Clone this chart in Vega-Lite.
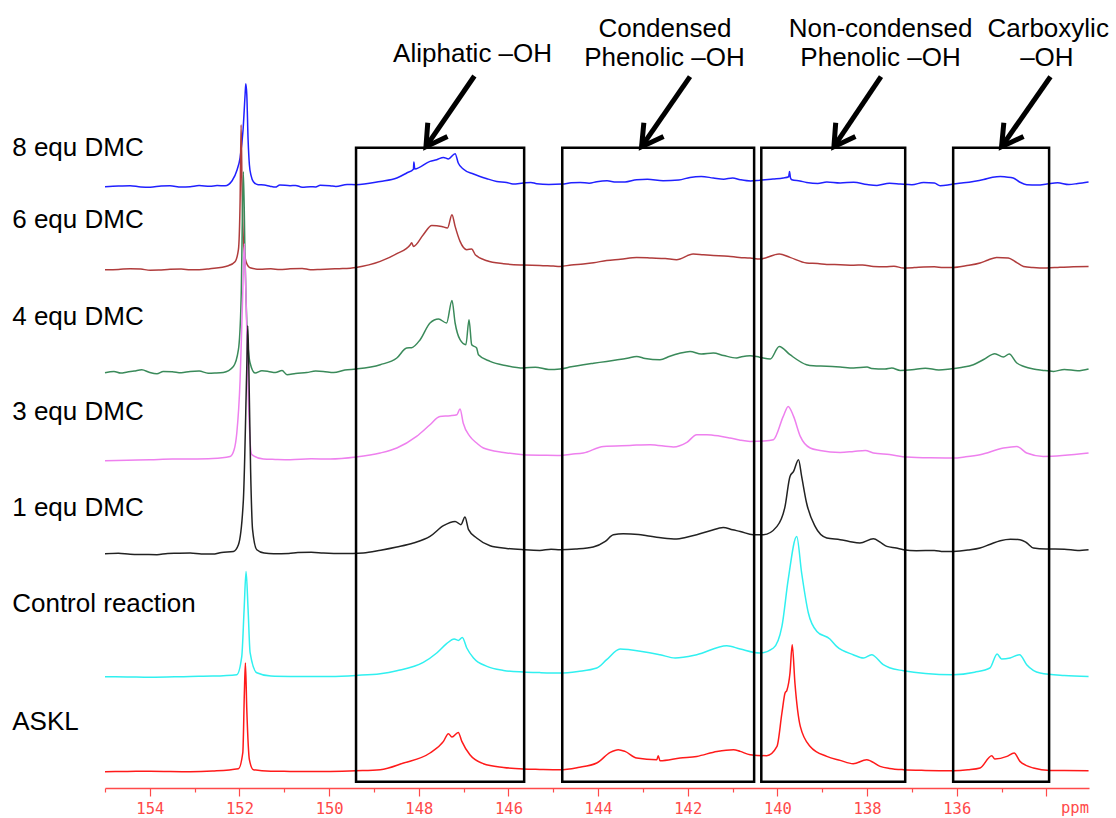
{
  "$schema": "https://vega.github.io/schema/vega-lite/v6.json",
  "width": 984,
  "height": 788,
  "autosize": {"type": "none"},
  "padding": {"left": 105, "top": 0, "right": 27, "bottom": 30},
  "background": "white",
  "config": {"view": {"stroke": null}, "font": "Liberation Sans"},
  "datasets": {
    "spectra": [
      {"s":"8 equ DMC","p":155.0,"v":601.3},{"s":"8 equ DMC","p":154.7,"v":602.0},{"s":"8 equ DMC","p":154.44,"v":602.3},{"s":"8 equ DMC","p":154.2,"v":601.0},{"s":"8 equ DMC","p":153.99,"v":600.8},{"s":"8 equ DMC","p":153.75,"v":602.0},{"s":"8 equ DMC","p":153.55,"v":602.3},{"s":"8 equ DMC","p":153.3,"v":600.9},{"s":"8 equ DMC","p":153.10,"v":601.3},{"s":"8 equ DMC","p":152.9,"v":602.4},{"s":"8 equ DMC","p":152.66,"v":601.8},{"s":"8 equ DMC","p":152.5,"v":602.4},{"s":"8 equ DMC","p":152.32,"v":602.3},{"s":"8 equ DMC","p":152.165,"v":607.3},{"s":"8 equ DMC","p":152.053,"v":618.3},{"s":"8 equ DMC","p":151.986,"v":630.3},{"s":"8 equ DMC","p":151.92,"v":658.3},{"s":"8 equ DMC","p":151.875,"v":693.3},{"s":"8 equ DMC","p":151.859,"v":704.3},{"s":"8 equ DMC","p":151.837,"v":693.3},{"s":"8 equ DMC","p":151.808,"v":648.3},{"s":"8 equ DMC","p":151.779,"v":623.3},{"s":"8 equ DMC","p":151.741,"v":612.3},{"s":"8 equ DMC","p":151.69,"v":606.3},{"s":"8 equ DMC","p":151.585,"v":603.3},{"s":"8 equ DMC","p":151.45,"v":603.0},{"s":"8 equ DMC","p":151.32,"v":601.8},{"s":"8 equ DMC","p":151.2,"v":600.9},{"s":"8 equ DMC","p":151.1,"v":603.0},{"s":"8 equ DMC","p":150.87,"v":602.3},{"s":"8 equ DMC","p":150.75,"v":602.6},{"s":"8 equ DMC","p":150.6,"v":600.8},{"s":"8 equ DMC","p":150.42,"v":601.3},{"s":"8 equ DMC","p":150.3,"v":601.0},{"s":"8 equ DMC","p":150.2,"v":602.8},{"s":"8 equ DMC","p":149.98,"v":602.3},{"s":"8 equ DMC","p":149.85,"v":601.5},{"s":"8 equ DMC","p":149.6,"v":603.5},{"s":"8 equ DMC","p":149.40,"v":603.3},{"s":"8 equ DMC","p":148.86,"v":606.6},{"s":"8 equ DMC","p":148.49,"v":610},{"s":"8 equ DMC","p":148.27,"v":615},{"s":"8 equ DMC","p":148.12,"v":618.8},{"s":"8 equ DMC","p":148.11,"v":626},{"s":"8 equ DMC","p":148.09,"v":619},{"s":"8 equ DMC","p":147.75,"v":626.6},{"s":"8 equ DMC","p":147.60,"v":628.3},{"s":"8 equ DMC","p":147.45,"v":630.6},{"s":"8 equ DMC","p":147.34,"v":629},{"s":"8 equ DMC","p":147.19,"v":634.3},{"s":"8 equ DMC","p":147.12,"v":625},{"s":"8 equ DMC","p":147.01,"v":619},{"s":"8 equ DMC","p":146.78,"v":614},{"s":"8 equ DMC","p":146.48,"v":609.3},{"s":"8 equ DMC","p":146.26,"v":606.6},{"s":"8 equ DMC","p":146.04,"v":605.6},{"s":"8 equ DMC","p":145.9,"v":604.0},{"s":"8 equ DMC","p":145.67,"v":605},{"s":"8 equ DMC","p":145.5,"v":605.6},{"s":"8 equ DMC","p":145.37,"v":604.3},{"s":"8 equ DMC","p":145.1,"v":603.6},{"s":"8 equ DMC","p":144.80,"v":604},{"s":"8 equ DMC","p":144.6,"v":605.2},{"s":"8 equ DMC","p":144.4,"v":605.5},{"s":"8 equ DMC","p":144.2,"v":604.8},{"s":"8 equ DMC","p":144.03,"v":606.3},{"s":"8 equ DMC","p":143.8,"v":607.2},{"s":"8 equ DMC","p":143.6,"v":606.0},{"s":"8 equ DMC","p":143.4,"v":606.0},{"s":"8 equ DMC","p":143.14,"v":608.3},{"s":"8 equ DMC","p":142.9,"v":608.8},{"s":"8 equ DMC","p":142.55,"v":607.3},{"s":"8 equ DMC","p":142.2,"v":608.0},{"s":"8 equ DMC","p":141.95,"v":610.6},{"s":"8 equ DMC","p":141.7,"v":611.5},{"s":"8 equ DMC","p":141.43,"v":610},{"s":"8 equ DMC","p":141.2,"v":608.8},{"s":"8 equ DMC","p":141.0,"v":610.0},{"s":"8 equ DMC","p":140.83,"v":608.3},{"s":"8 equ DMC","p":140.6,"v":607.0},{"s":"8 equ DMC","p":140.39,"v":607.8},{"s":"8 equ DMC","p":140.1,"v":609.0},{"s":"8 equ DMC","p":139.87,"v":610},{"s":"8 equ DMC","p":139.75,"v":611.3},{"s":"8 equ DMC","p":139.73,"v":616.6},{"s":"8 equ DMC","p":139.71,"v":610.3},{"s":"8 equ DMC","p":139.68,"v":608.3},{"s":"8 equ DMC","p":139.5,"v":607.0},{"s":"8 equ DMC","p":139.35,"v":605.6},{"s":"8 equ DMC","p":139.1,"v":604.5},{"s":"8 equ DMC","p":138.9,"v":606.0},{"s":"8 equ DMC","p":138.60,"v":605},{"s":"8 equ DMC","p":138.3,"v":605.8},{"s":"8 equ DMC","p":138.0,"v":603.5},{"s":"8 equ DMC","p":137.78,"v":602.6},{"s":"8 equ DMC","p":137.5,"v":604.8},{"s":"8 equ DMC","p":137.26,"v":604},{"s":"8 equ DMC","p":137.0,"v":603.2},{"s":"8 equ DMC","p":136.74,"v":605.6},{"s":"8 equ DMC","p":136.5,"v":605.0},{"s":"8 equ DMC","p":136.37,"v":602.3},{"s":"8 equ DMC","p":136.2,"v":603.0},{"s":"8 equ DMC","p":136.08,"v":604},{"s":"8 equ DMC","p":135.85,"v":605.2},{"s":"8 equ DMC","p":135.63,"v":606.6},{"s":"8 equ DMC","p":135.4,"v":608.5},{"s":"8 equ DMC","p":135.2,"v":610.8},{"s":"8 equ DMC","p":135.03,"v":611.6},{"s":"8 equ DMC","p":134.9,"v":611.0},{"s":"8 equ DMC","p":134.74,"v":610},{"s":"8 equ DMC","p":134.6,"v":606.0},{"s":"8 equ DMC","p":134.44,"v":603.3},{"s":"8 equ DMC","p":134.2,"v":603.0},{"s":"8 equ DMC","p":133.99,"v":604},{"s":"8 equ DMC","p":133.75,"v":605.2},{"s":"8 equ DMC","p":133.5,"v":603.5},{"s":"8 equ DMC","p":133.3,"v":604.5},{"s":"8 equ DMC","p":133.06,"v":606},

      {"s":"6 equ DMC","p":155.0,"v":518.3},{"s":"6 equ DMC","p":154.7,"v":518.6},{"s":"6 equ DMC","p":154.44,"v":519.3},{"s":"6 equ DMC","p":154.2,"v":518.9},{"s":"6 equ DMC","p":153.99,"v":517.8},{"s":"6 equ DMC","p":153.8,"v":517.9},{"s":"6 equ DMC","p":153.55,"v":518.8},{"s":"6 equ DMC","p":153.3,"v":518.9},{"s":"6 equ DMC","p":153.10,"v":518.3},{"s":"6 equ DMC","p":152.9,"v":518.2},{"s":"6 equ DMC","p":152.66,"v":519.3},{"s":"6 equ DMC","p":152.25,"v":522.3},{"s":"6 equ DMC","p":152.10,"v":526.3},{"s":"6 equ DMC","p":152.024,"v":538.3},{"s":"6 equ DMC","p":151.986,"v":588.3},{"s":"6 equ DMC","p":151.964,"v":663.3},{"s":"6 equ DMC","p":151.942,"v":598.3},{"s":"6 equ DMC","p":151.908,"v":543.3},{"s":"6 equ DMC","p":151.853,"v":526.3},{"s":"6 equ DMC","p":151.763,"v":520.3},{"s":"6 equ DMC","p":151.54,"v":518.8},{"s":"6 equ DMC","p":151.3,"v":519.2},{"s":"6 equ DMC","p":151.1,"v":518.4},{"s":"6 equ DMC","p":150.87,"v":519.3},{"s":"6 equ DMC","p":150.6,"v":519.6},{"s":"6 equ DMC","p":150.42,"v":518.3},{"s":"6 equ DMC","p":150.2,"v":518.6},{"s":"6 equ DMC","p":149.98,"v":519},{"s":"6 equ DMC","p":149.7,"v":519.4},{"s":"6 equ DMC","p":149.40,"v":520.6},{"s":"6 equ DMC","p":148.86,"v":526.6},{"s":"6 equ DMC","p":148.49,"v":534.3},{"s":"6 equ DMC","p":148.19,"v":543.3},{"s":"6 equ DMC","p":148.16,"v":545.3},{"s":"6 equ DMC","p":148.12,"v":541.6},{"s":"6 equ DMC","p":147.90,"v":553.3},{"s":"6 equ DMC","p":147.71,"v":562.6},{"s":"6 equ DMC","p":147.49,"v":561.6},{"s":"6 equ DMC","p":147.36,"v":560},{"s":"6 equ DMC","p":147.26,"v":573.3},{"s":"6 equ DMC","p":147.19,"v":561.6},{"s":"6 equ DMC","p":147.08,"v":546.6},{"s":"6 equ DMC","p":146.93,"v":538.3},{"s":"6 equ DMC","p":146.82,"v":539},{"s":"6 equ DMC","p":146.74,"v":533.3},{"s":"6 equ DMC","p":146.48,"v":527.3},{"s":"6 equ DMC","p":146.11,"v":524.3},{"s":"6 equ DMC","p":145.67,"v":523},{"s":"6 equ DMC","p":145.3,"v":522.6},{"s":"6 equ DMC","p":145.0,"v":521.9},{"s":"6 equ DMC","p":144.85,"v":521.6},{"s":"6 equ DMC","p":144.6,"v":523.0},{"s":"6 equ DMC","p":144.33,"v":524},{"s":"6 equ DMC","p":144.1,"v":525.2},{"s":"6 equ DMC","p":143.81,"v":527.6},{"s":"6 equ DMC","p":143.5,"v":528.8},{"s":"6 equ DMC","p":143.14,"v":530.6},{"s":"6 equ DMC","p":142.8,"v":530.0},{"s":"6 equ DMC","p":142.5,"v":529.4},{"s":"6 equ DMC","p":142.25,"v":528.3},{"s":"6 equ DMC","p":141.88,"v":534},{"s":"6 equ DMC","p":141.65,"v":533.2},{"s":"6 equ DMC","p":141.43,"v":532.6},{"s":"6 equ DMC","p":141.1,"v":531.8},{"s":"6 equ DMC","p":140.85,"v":530.6},{"s":"6 equ DMC","p":140.61,"v":530},{"s":"6 equ DMC","p":140.39,"v":529},{"s":"6 equ DMC","p":139.96,"v":534},{"s":"6 equ DMC","p":139.72,"v":530.6},{"s":"6 equ DMC","p":139.35,"v":525},{"s":"6 equ DMC","p":139.1,"v":524.5},{"s":"6 equ DMC","p":138.9,"v":523.6},{"s":"6 equ DMC","p":138.60,"v":523.3},{"s":"6 equ DMC","p":138.3,"v":522.8},{"s":"6 equ DMC","p":138.1,"v":523.0},{"s":"6 equ DMC","p":137.86,"v":521.6},{"s":"6 equ DMC","p":137.6,"v":521.2},{"s":"6 equ DMC","p":137.4,"v":521.8},{"s":"6 equ DMC","p":137.19,"v":520},{"s":"6 equ DMC","p":136.95,"v":520.4},{"s":"6 equ DMC","p":136.74,"v":521},{"s":"6 equ DMC","p":136.5,"v":521.3},{"s":"6 equ DMC","p":136.3,"v":520.4},{"s":"6 equ DMC","p":136.08,"v":520.6},{"s":"6 equ DMC","p":135.8,"v":522.3},{"s":"6 equ DMC","p":135.48,"v":525},{"s":"6 equ DMC","p":135.3,"v":528.0},{"s":"6 equ DMC","p":135.11,"v":530.6},{"s":"6 equ DMC","p":134.85,"v":530},{"s":"6 equ DMC","p":134.7,"v":526.5},{"s":"6 equ DMC","p":134.51,"v":521.6},{"s":"6 equ DMC","p":134.3,"v":520.5},{"s":"6 equ DMC","p":133.99,"v":520},{"s":"6 equ DMC","p":133.7,"v":520.8},{"s":"6 equ DMC","p":133.4,"v":521.2},{"s":"6 equ DMC","p":133.06,"v":521.6},

      {"s":"4 equ DMC","p":155.0,"v":415.3},{"s":"4 equ DMC","p":154.8,"v":416.6},{"s":"4 equ DMC","p":154.65,"v":414.9},{"s":"4 equ DMC","p":154.5,"v":416.0},{"s":"4 equ DMC","p":154.35,"v":416.9},{"s":"4 equ DMC","p":154.18,"v":418.3},{"s":"4 equ DMC","p":154.0,"v":415.5},{"s":"4 equ DMC","p":153.84,"v":414.3},{"s":"4 equ DMC","p":153.7,"v":416.5},{"s":"4 equ DMC","p":153.5,"v":416.2},{"s":"4 equ DMC","p":153.3,"v":415.2},{"s":"4 equ DMC","p":153.10,"v":416.6},{"s":"4 equ DMC","p":152.9,"v":417.0},{"s":"4 equ DMC","p":152.7,"v":414.8},{"s":"4 equ DMC","p":152.55,"v":415.0},{"s":"4 equ DMC","p":152.36,"v":415.6},{"s":"4 equ DMC","p":152.136,"v":421.6},{"s":"4 equ DMC","p":152.024,"v":438.3},{"s":"4 equ DMC","p":151.964,"v":488.3},{"s":"4 equ DMC","p":151.913,"v":616.3},{"s":"4 equ DMC","p":151.875,"v":528.3},{"s":"4 equ DMC","p":151.83,"v":458.3},{"s":"4 equ DMC","p":151.763,"v":425},{"s":"4 equ DMC","p":151.652,"v":415},{"s":"4 equ DMC","p":151.5,"v":417.2},{"s":"4 equ DMC","p":151.355,"v":416.6},{"s":"4 equ DMC","p":151.2,"v":415.5},{"s":"4 equ DMC","p":151.05,"v":417.5},{"s":"4 equ DMC","p":150.94,"v":413.3},{"s":"4 equ DMC","p":150.75,"v":414.6},{"s":"4 equ DMC","p":150.5,"v":415.5},{"s":"4 equ DMC","p":150.3,"v":416.9},{"s":"4 equ DMC","p":150.13,"v":416.6},{"s":"4 equ DMC","p":149.9,"v":415.4},{"s":"4 equ DMC","p":149.65,"v":418.0},{"s":"4 equ DMC","p":149.40,"v":419},{"s":"4 equ DMC","p":148.86,"v":423.3},{"s":"4 equ DMC","p":148.49,"v":430},{"s":"4 equ DMC","p":148.27,"v":440},{"s":"4 equ DMC","p":148.16,"v":440.3},{"s":"4 equ DMC","p":147.97,"v":448.3},{"s":"4 equ DMC","p":147.75,"v":465},{"s":"4 equ DMC","p":147.56,"v":469},{"s":"4 equ DMC","p":147.38,"v":465},{"s":"4 equ DMC","p":147.26,"v":487.6},{"s":"4 equ DMC","p":147.19,"v":465},{"s":"4 equ DMC","p":147.08,"v":448.3},{"s":"4 equ DMC","p":146.95,"v":443.3},{"s":"4 equ DMC","p":146.88,"v":468.3},{"s":"4 equ DMC","p":146.82,"v":443.3},{"s":"4 equ DMC","p":146.71,"v":440},{"s":"4 equ DMC","p":146.67,"v":433.3},{"s":"4 equ DMC","p":146.41,"v":426.6},{"s":"4 equ DMC","p":146.04,"v":422.3},{"s":"4 equ DMC","p":145.67,"v":420},{"s":"4 equ DMC","p":145.4,"v":420.8},{"s":"4 equ DMC","p":145.1,"v":418.5},{"s":"4 equ DMC","p":144.85,"v":419},{"s":"4 equ DMC","p":144.6,"v":421.2},{"s":"4 equ DMC","p":144.33,"v":423.3},{"s":"4 equ DMC","p":144.1,"v":424.8},{"s":"4 equ DMC","p":143.81,"v":426.6},{"s":"4 equ DMC","p":143.6,"v":428.0},{"s":"4 equ DMC","p":143.35,"v":429.8},{"s":"4 equ DMC","p":143.14,"v":431.6},{"s":"4 equ DMC","p":142.95,"v":429.5},{"s":"4 equ DMC","p":142.62,"v":428.3},{"s":"4 equ DMC","p":142.4,"v":431.8},{"s":"4 equ DMC","p":142.2,"v":434.5},{"s":"4 equ DMC","p":141.95,"v":436.6},{"s":"4 equ DMC","p":141.7,"v":434.0},{"s":"4 equ DMC","p":141.43,"v":435},{"s":"4 equ DMC","p":141.2,"v":432.5},{"s":"4 equ DMC","p":140.91,"v":430},{"s":"4 equ DMC","p":140.8,"v":431.2},{"s":"4 equ DMC","p":140.61,"v":432.3},{"s":"4 equ DMC","p":140.4,"v":430.8},{"s":"4 equ DMC","p":140.16,"v":429},{"s":"4 equ DMC","p":139.96,"v":441.6},{"s":"4 equ DMC","p":139.72,"v":433.3},{"s":"4 equ DMC","p":139.35,"v":423.3},{"s":"4 equ DMC","p":139.2,"v":422.2},{"s":"4 equ DMC","p":138.9,"v":421.8},{"s":"4 equ DMC","p":138.60,"v":421},{"s":"4 equ DMC","p":138.3,"v":420.0},{"s":"4 equ DMC","p":138.0,"v":420.9},{"s":"4 equ DMC","p":137.9,"v":419.5},{"s":"4 equ DMC","p":137.6,"v":419.0},{"s":"4 equ DMC","p":137.45,"v":420.0},{"s":"4 equ DMC","p":137.26,"v":417.6},{"s":"4 equ DMC","p":137.0,"v":418.2},{"s":"4 equ DMC","p":136.7,"v":419.8},{"s":"4 equ DMC","p":136.4,"v":418.0},{"s":"4 equ DMC","p":136.15,"v":419},{"s":"4 equ DMC","p":135.9,"v":420.6},{"s":"4 equ DMC","p":135.63,"v":423.3},{"s":"4 equ DMC","p":135.4,"v":428.5},{"s":"4 equ DMC","p":135.15,"v":434.3},{"s":"4 equ DMC","p":134.96,"v":431},{"s":"4 equ DMC","p":134.83,"v":434},{"s":"4 equ DMC","p":134.66,"v":425},{"s":"4 equ DMC","p":134.5,"v":421.5},{"s":"4 equ DMC","p":134.29,"v":419},{"s":"4 equ DMC","p":134.1,"v":417.8},{"s":"4 equ DMC","p":133.84,"v":416.6},{"s":"4 equ DMC","p":133.6,"v":418.6},{"s":"4 equ DMC","p":133.3,"v":417.2},{"s":"4 equ DMC","p":133.06,"v":419},

      {"s":"3 equ DMC","p":155.0,"v":327.3},{"s":"3 equ DMC","p":154.5,"v":327.8},{"s":"3 equ DMC","p":153.99,"v":328.3},{"s":"3 equ DMC","p":153.5,"v":328.9},{"s":"3 equ DMC","p":153.10,"v":329},{"s":"3 equ DMC","p":152.6,"v":329.5},{"s":"3 equ DMC","p":152.21,"v":331.6},{"s":"3 equ DMC","p":152.12,"v":338.3},{"s":"3 equ DMC","p":152.06,"v":355},{"s":"3 equ DMC","p":151.986,"v":408.3},{"s":"3 equ DMC","p":151.931,"v":488.3},{"s":"3 equ DMC","p":151.891,"v":544.3},{"s":"3 equ DMC","p":151.853,"v":488.3},{"s":"3 equ DMC","p":151.801,"v":388.3},{"s":"3 equ DMC","p":151.725,"v":333.3},{"s":"3 equ DMC","p":151.467,"v":329},{"s":"3 equ DMC","p":151.2,"v":328.6},{"s":"3 equ DMC","p":150.87,"v":328.3},{"s":"3 equ DMC","p":150.4,"v":329.2},{"s":"3 equ DMC","p":149.98,"v":329},{"s":"3 equ DMC","p":149.40,"v":331},{"s":"3 equ DMC","p":148.86,"v":335},{"s":"3 equ DMC","p":148.49,"v":340},{"s":"3 equ DMC","p":148.05,"v":351.6},{"s":"3 equ DMC","p":147.75,"v":363.3},{"s":"3 equ DMC","p":147.53,"v":371.6},{"s":"3 equ DMC","p":147.30,"v":372.3},{"s":"3 equ DMC","p":147.15,"v":373.3},{"s":"3 equ DMC","p":147.08,"v":379},{"s":"3 equ DMC","p":147.01,"v":365},{"s":"3 equ DMC","p":146.86,"v":351.6},{"s":"3 equ DMC","p":146.71,"v":345},{"s":"3 equ DMC","p":146.56,"v":340},{"s":"3 equ DMC","p":146.11,"v":335.6},{"s":"3 equ DMC","p":145.67,"v":333.3},{"s":"3 equ DMC","p":145.2,"v":332.8},{"s":"3 equ DMC","p":144.85,"v":332.6},{"s":"3 equ DMC","p":144.6,"v":333.8},{"s":"3 equ DMC","p":144.33,"v":335},{"s":"3 equ DMC","p":143.88,"v":341.6},{"s":"3 equ DMC","p":143.29,"v":342.6},{"s":"3 equ DMC","p":142.84,"v":343.3},{"s":"3 equ DMC","p":142.32,"v":341},{"s":"3 equ DMC","p":142.02,"v":345.6},{"s":"3 equ DMC","p":141.80,"v":353.3},{"s":"3 equ DMC","p":141.58,"v":353.3},{"s":"3 equ DMC","p":141.3,"v":352.0},{"s":"3 equ DMC","p":141.06,"v":350},{"s":"3 equ DMC","p":140.85,"v":348.0},{"s":"3 equ DMC","p":140.61,"v":346.6},{"s":"3 equ DMC","p":140.3,"v":347.0},{"s":"3 equ DMC","p":140.09,"v":348.3},{"s":"3 equ DMC","p":139.87,"v":371.6},{"s":"3 equ DMC","p":139.76,"v":381.6},{"s":"3 equ DMC","p":139.64,"v":371.6},{"s":"3 equ DMC","p":139.49,"v":351.6},{"s":"3 equ DMC","p":139.27,"v":340},{"s":"3 equ DMC","p":139.05,"v":337.6},{"s":"3 equ DMC","p":138.60,"v":335.6},{"s":"3 equ DMC","p":138.3,"v":336.6},{"s":"3 equ DMC","p":138.04,"v":337.6},{"s":"3 equ DMC","p":137.86,"v":335},{"s":"3 equ DMC","p":137.5,"v":333.4},{"s":"3 equ DMC","p":137.11,"v":331},{"s":"3 equ DMC","p":136.6,"v":330.2},{"s":"3 equ DMC","p":136.08,"v":330},{"s":"3 equ DMC","p":135.8,"v":331.2},{"s":"3 equ DMC","p":135.48,"v":333.3},{"s":"3 equ DMC","p":134.96,"v":340},{"s":"3 equ DMC","p":134.66,"v":341.6},{"s":"3 equ DMC","p":134.44,"v":335},{"s":"3 equ DMC","p":134.07,"v":331.6},{"s":"3 equ DMC","p":133.06,"v":335},

      {"s":"1 equ DMC","p":155.0,"v":234.3},{"s":"1 equ DMC","p":154.7,"v":234.8},{"s":"1 equ DMC","p":154.44,"v":233.8},{"s":"1 equ DMC","p":154.1,"v":233.5},{"s":"1 equ DMC","p":153.84,"v":233.3},{"s":"1 equ DMC","p":153.6,"v":234.6},{"s":"1 equ DMC","p":153.4,"v":234.8},{"s":"1 equ DMC","p":153.10,"v":235},{"s":"1 equ DMC","p":152.85,"v":234.0},{"s":"1 equ DMC","p":152.6,"v":233.9},{"s":"1 equ DMC","p":152.4,"v":235.6},{"s":"1 equ DMC","p":152.136,"v":236.6},{"s":"1 equ DMC","p":152.024,"v":243.3},{"s":"1 equ DMC","p":151.913,"v":288.3},{"s":"1 equ DMC","p":151.837,"v":421.6},{"s":"1 equ DMC","p":151.815,"v":462.3},{"s":"1 equ DMC","p":151.792,"v":421.6},{"s":"1 equ DMC","p":151.752,"v":318.3},{"s":"1 equ DMC","p":151.708,"v":258.3},{"s":"1 equ DMC","p":151.614,"v":238.3},{"s":"1 equ DMC","p":151.45,"v":235.0},{"s":"1 equ DMC","p":151.24,"v":234.3},{"s":"1 equ DMC","p":150.9,"v":234.6},{"s":"1 equ DMC","p":150.7,"v":235.6},{"s":"1 equ DMC","p":150.4,"v":235.8},{"s":"1 equ DMC","p":150.13,"v":235},{"s":"1 equ DMC","p":149.7,"v":234.4},{"s":"1 equ DMC","p":149.24,"v":235},{"s":"1 equ DMC","p":148.85,"v":237.8},{"s":"1 equ DMC","p":148.49,"v":241},{"s":"1 equ DMC","p":148.12,"v":245},{"s":"1 equ DMC","p":147.75,"v":251.6},{"s":"1 equ DMC","p":147.45,"v":262.3},{"s":"1 equ DMC","p":147.19,"v":266.6},{"s":"1 equ DMC","p":147.06,"v":263.3},{"s":"1 equ DMC","p":146.97,"v":271},{"s":"1 equ DMC","p":146.89,"v":258.3},{"s":"1 equ DMC","p":146.71,"v":250},{"s":"1 equ DMC","p":146.41,"v":242.3},{"s":"1 equ DMC","p":146.04,"v":239.6},{"s":"1 equ DMC","p":145.67,"v":238.3},{"s":"1 equ DMC","p":145.3,"v":237.6},{"s":"1 equ DMC","p":145.05,"v":238.8},{"s":"1 equ DMC","p":144.85,"v":238.3},{"s":"1 equ DMC","p":144.5,"v":239.0},{"s":"1 equ DMC","p":144.11,"v":241},{"s":"1 equ DMC","p":143.84,"v":246.6},{"s":"1 equ DMC","p":143.66,"v":253.3},{"s":"1 equ DMC","p":143.44,"v":254.3},{"s":"1 equ DMC","p":143.1,"v":253.6},{"s":"1 equ DMC","p":142.91,"v":252.3},{"s":"1 equ DMC","p":142.6,"v":250.3},{"s":"1 equ DMC","p":142.25,"v":249},{"s":"1 equ DMC","p":142.05,"v":250.6},{"s":"1 equ DMC","p":141.80,"v":253.3},{"s":"1 equ DMC","p":141.5,"v":257.2},{"s":"1 equ DMC","p":141.21,"v":260.6},{"s":"1 equ DMC","p":141.0,"v":258.2},{"s":"1 equ DMC","p":140.83,"v":256.6},{"s":"1 equ DMC","p":140.54,"v":253.3},{"s":"1 equ DMC","p":140.31,"v":253.3},{"s":"1 equ DMC","p":140.01,"v":261.6},{"s":"1 equ DMC","p":139.83,"v":281.6},{"s":"1 equ DMC","p":139.72,"v":311.6},{"s":"1 equ DMC","p":139.64,"v":316.6},{"s":"1 equ DMC","p":139.53,"v":328.3},{"s":"1 equ DMC","p":139.46,"v":311.6},{"s":"1 equ DMC","p":139.35,"v":285},{"s":"1 equ DMC","p":139.16,"v":261.6},{"s":"1 equ DMC","p":138.90,"v":250},{"s":"1 equ DMC","p":138.60,"v":248.3},{"s":"1 equ DMC","p":138.4,"v":246.6},{"s":"1 equ DMC","p":138.16,"v":245},{"s":"1 equ DMC","p":137.86,"v":249.3},{"s":"1 equ DMC","p":137.7,"v":245.6},{"s":"1 equ DMC","p":137.56,"v":241.6},{"s":"1 equ DMC","p":137.35,"v":240.0},{"s":"1 equ DMC","p":137.19,"v":238.3},{"s":"1 equ DMC","p":136.9,"v":237.3},{"s":"1 equ DMC","p":136.5,"v":237.6},{"s":"1 equ DMC","p":136.3,"v":236.4},{"s":"1 equ DMC","p":136.08,"v":236.6},{"s":"1 equ DMC","p":135.75,"v":238.0},{"s":"1 equ DMC","p":135.48,"v":240},{"s":"1 equ DMC","p":135.25,"v":243.8},{"s":"1 equ DMC","p":135.03,"v":247.3},{"s":"1 equ DMC","p":134.8,"v":248.8},{"s":"1 equ DMC","p":134.59,"v":248.3},{"s":"1 equ DMC","p":134.45,"v":245.5},{"s":"1 equ DMC","p":134.29,"v":240},{"s":"1 equ DMC","p":134.0,"v":239.0},{"s":"1 equ DMC","p":133.6,"v":238.8},{"s":"1 equ DMC","p":133.3,"v":237.6},{"s":"1 equ DMC","p":133.06,"v":238.3},

      {"s":"Control reaction","p":155.0,"v":111.3},{"s":"Control reaction","p":154.5,"v":111.1},{"s":"Control reaction","p":153.99,"v":110.8},{"s":"Control reaction","p":153.10,"v":111.6},{"s":"Control reaction","p":152.6,"v":111.9},{"s":"Control reaction","p":152.06,"v":113.3},{"s":"Control reaction","p":151.949,"v":131.6},{"s":"Control reaction","p":151.897,"v":178.3},{"s":"Control reaction","p":151.853,"v":216.6},{"s":"Control reaction","p":151.808,"v":178.3},{"s":"Control reaction","p":151.763,"v":135.3},{"s":"Control reaction","p":151.614,"v":115.3},{"s":"Control reaction","p":151.3,"v":112.0},{"s":"Control reaction","p":150.87,"v":111.6},{"s":"Control reaction","p":150.4,"v":111.5},{"s":"Control reaction","p":149.98,"v":111.6},{"s":"Control reaction","p":149.4,"v":112.6},{"s":"Control reaction","p":148.86,"v":114.3},{"s":"Control reaction","p":148.49,"v":117.3},{"s":"Control reaction","p":147.90,"v":125.6},{"s":"Control reaction","p":147.60,"v":135},{"s":"Control reaction","p":147.38,"v":144.3},{"s":"Control reaction","p":147.21,"v":149},{"s":"Control reaction","p":147.12,"v":147.6},{"s":"Control reaction","p":147.03,"v":150.6},{"s":"Control reaction","p":146.93,"v":140},{"s":"Control reaction","p":146.78,"v":130},{"s":"Control reaction","p":146.48,"v":121.6},{"s":"Control reaction","p":146.11,"v":117.6},{"s":"Control reaction","p":145.67,"v":116},{"s":"Control reaction","p":145.3,"v":115.4},{"s":"Control reaction","p":144.85,"v":115},{"s":"Control reaction","p":144.45,"v":116.6},{"s":"Control reaction","p":144.03,"v":120},{"s":"Control reaction","p":143.81,"v":128.3},{"s":"Control reaction","p":143.51,"v":139},{"s":"Control reaction","p":143.29,"v":138.3},{"s":"Control reaction","p":142.62,"v":133.3},{"s":"Control reaction","p":142.28,"v":130},{"s":"Control reaction","p":141.80,"v":133.3},{"s":"Control reaction","p":141.13,"v":142.3},{"s":"Control reaction","p":140.83,"v":139},{"s":"Control reaction","p":140.39,"v":135},{"s":"Control reaction","p":140.09,"v":140},{"s":"Control reaction","p":139.90,"v":161.6},{"s":"Control reaction","p":139.76,"v":208.3},{"s":"Control reaction","p":139.57,"v":251.6},{"s":"Control reaction","p":139.46,"v":215},{"s":"Control reaction","p":139.31,"v":175},{"s":"Control reaction","p":139.12,"v":156.6},{"s":"Control reaction","p":138.83,"v":149},{"s":"Control reaction","p":138.68,"v":141.6},{"s":"Control reaction","p":138.31,"v":133.3},{"s":"Control reaction","p":138.08,"v":130},{"s":"Control reaction","p":137.90,"v":133.3},{"s":"Control reaction","p":137.64,"v":123.3},{"s":"Control reaction","p":137.5,"v":120.2},{"s":"Control reaction","p":137.19,"v":117.3},{"s":"Control reaction","p":136.7,"v":114.5},{"s":"Control reaction","p":136.08,"v":113.3},{"s":"Control reaction","p":135.6,"v":115.8},{"s":"Control reaction","p":135.26,"v":120},{"s":"Control reaction","p":135.10,"v":134},{"s":"Control reaction","p":135.00,"v":129},{"s":"Control reaction","p":134.81,"v":130},{"s":"Control reaction","p":134.60,"v":133.3},{"s":"Control reaction","p":134.44,"v":123.3},{"s":"Control reaction","p":134.14,"v":115},{"s":"Control reaction","p":133.6,"v":112.5},{"s":"Control reaction","p":133.06,"v":111.6},

      {"s":"ASKL","p":155.0,"v":16.3},{"s":"ASKL","p":154.5,"v":16.5},{"s":"ASKL","p":153.99,"v":16.8},{"s":"ASKL","p":153.10,"v":16.3},{"s":"ASKL","p":152.6,"v":17.0},{"s":"ASKL","p":152.024,"v":19.3},{"s":"ASKL","p":151.926,"v":35.3},{"s":"ASKL","p":151.891,"v":95.3},{"s":"ASKL","p":151.868,"v":125},{"s":"ASKL","p":151.837,"v":78.3},{"s":"ASKL","p":151.779,"v":28.3},{"s":"ASKL","p":151.69,"v":18.3},{"s":"ASKL","p":151.3,"v":16.8},{"s":"ASKL","p":150.87,"v":16.6},{"s":"ASKL","p":150.4,"v":16.4},{"s":"ASKL","p":149.98,"v":16.6},{"s":"ASKL","p":149.4,"v":17.3},{"s":"ASKL","p":148.86,"v":18.3},{"s":"ASKL","p":148.34,"v":25},{"s":"ASKL","p":147.75,"v":35},{"s":"ASKL","p":147.45,"v":46.6},{"s":"ASKL","p":147.34,"v":54.3},{"s":"ASKL","p":147.26,"v":51},{"s":"ASKL","p":147.12,"v":55.6},{"s":"ASKL","p":147.04,"v":46.6},{"s":"ASKL","p":146.86,"v":33.3},{"s":"ASKL","p":146.56,"v":24.3},{"s":"ASKL","p":146.11,"v":20.6},{"s":"ASKL","p":145.67,"v":19},{"s":"ASKL","p":145.3,"v":18.6},{"s":"ASKL","p":144.85,"v":18.3},{"s":"ASKL","p":144.45,"v":20.5},{"s":"ASKL","p":144.03,"v":25},{"s":"ASKL","p":143.73,"v":35.6},{"s":"ASKL","p":143.55,"v":38.3},{"s":"ASKL","p":143.40,"v":36.6},{"s":"ASKL","p":143.14,"v":30},{"s":"ASKL","p":142.69,"v":28.3},{"s":"ASKL","p":142.66,"v":32.3},{"s":"ASKL","p":142.62,"v":27.3},{"s":"ASKL","p":142.17,"v":30},{"s":"ASKL","p":141.80,"v":31.6},{"s":"ASKL","p":141.35,"v":36.6},{"s":"ASKL","p":140.98,"v":38.3},{"s":"ASKL","p":140.83,"v":36.6},{"s":"ASKL","p":140.61,"v":33.3},{"s":"ASKL","p":140.24,"v":32.3},{"s":"ASKL","p":140.01,"v":41.6},{"s":"ASKL","p":139.90,"v":75},{"s":"ASKL","p":139.83,"v":95},{"s":"ASKL","p":139.79,"v":97.6},{"s":"ASKL","p":139.72,"v":115},{"s":"ASKL","p":139.67,"v":143.3},{"s":"ASKL","p":139.61,"v":105},{"s":"ASKL","p":139.49,"v":61.6},{"s":"ASKL","p":139.27,"v":41.6},{"s":"ASKL","p":138.90,"v":31.6},{"s":"ASKL","p":138.60,"v":27.6},{"s":"ASKL","p":138.31,"v":24.3},{"s":"ASKL","p":138.01,"v":28.3},{"s":"ASKL","p":137.71,"v":21.6},{"s":"ASKL","p":137.5,"v":19.6},{"s":"ASKL","p":137.19,"v":18.3},{"s":"ASKL","p":136.7,"v":17.6},{"s":"ASKL","p":136.08,"v":17.3},{"s":"ASKL","p":135.75,"v":18.2},{"s":"ASKL","p":135.48,"v":20},{"s":"ASKL","p":135.22,"v":32.3},{"s":"ASKL","p":135.15,"v":29},{"s":"ASKL","p":134.88,"v":31.6},{"s":"ASKL","p":134.72,"v":35},{"s":"ASKL","p":134.59,"v":26.6},{"s":"ASKL","p":134.29,"v":20},{"s":"ASKL","p":133.92,"v":17.6},{"s":"ASKL","p":133.6,"v":17.5},{"s":"ASKL","p":133.06,"v":17.3}
    ],
    "boxes": [
      {"region":"Aliphatic","p":149.40,"p2":145.65,"v":640.3,"v2":6.3},
      {"region":"Condensed","p":144.80,"p2":140.52,"v":640.3,"v2":6.3},
      {"region":"Non-condensed","p":140.36,"p2":137.15,"v":640.3,"v2":6.3},
      {"region":"Carboxylic","p":136.08,"p2":133.94,"v":640.3,"v2":6.3}
    ],
    "shafts": [
      {"a":"Aliphatic","p":146.76,"v":712.0,"p2":147.84,"v2":641.3},
      {"a":"Condensed","p":141.95,"v":711.3,"p2":143.03,"v2":641.3},
      {"a":"Non-condensed","p":137.69,"v":711.3,"p2":138.74,"v2":641.3},
      {"a":"Carboxylic","p":133.91,"v":711.3,"p2":135.00,"v2":641.3}
    ],
    "heads": [
      {"a":"Aliphatic","k":0,"p":147.80,"v":665.2},{"a":"Aliphatic","k":1,"p":147.84,"v":641.3},{"a":"Aliphatic","k":2,"p":147.36,"v":651.6},
      {"a":"Condensed","k":0,"p":142.98,"v":665.2},{"a":"Condensed","k":1,"p":143.03,"v":641.3},{"a":"Condensed","k":2,"p":142.54,"v":651.6},
      {"a":"Non-condensed","k":0,"p":138.70,"v":665.2},{"a":"Non-condensed","k":1,"p":138.74,"v":641.3},{"a":"Non-condensed","k":2,"p":138.26,"v":651.6},
      {"a":"Carboxylic","k":0,"p":134.95,"v":665.2},{"a":"Carboxylic","k":1,"p":135.00,"v":641.3},{"a":"Carboxylic","k":2,"p":134.51,"v":651.6}
    ],
    "samples": [
      {"t":"8 equ DMC","p":157.07,"v":632.3},
      {"t":"6 equ DMC","p":157.07,"v":560.3},
      {"t":"4 equ DMC","p":157.07,"v":463},
      {"t":"3 equ DMC","p":157.07,"v":368},
      {"t":"1 equ DMC","p":157.07,"v":272.3},
      {"t":"Control reaction","p":157.07,"v":175.7},
      {"t":"ASKL","p":157.07,"v":58}
    ],
    "notes": [
      {"t":"Aliphatic –OH","p":146.80,"v":726.5},
      {"t":"Condensed","p":142.51,"v":750.7},
      {"t":"Phenolic –OH","p":142.52,"v":722.5},
      {"t":"Non-condensed","p":137.70,"v":750.7},
      {"t":"Phenolic –OH","p":137.70,"v":722.5},
      {"t":"Carboxylic","p":133.96,"v":750.7},
      {"t":"–OH","p":133.99,"v":722.5}
    ],
    "unit": [{"t":"ppm","p":133.05,"v":-25}]
  },
  "encoding": {
    "x": {"field":"p","type":"quantitative","title":null,
      "scale":{"domain":[133.05,155],"reverse":true,"nice":false,"zero":false}},
    "y": {"field":"v","type":"quantitative","title":null,
      "scale":{"domain":[0,788],"nice":false,"zero":false},"axis":null}
  },
  "layer": [
    {
      "data": {"name":"spectra"},
      "mark": {"type":"line","strokeWidth":1.5,"interpolate":"monotone","clip":false},
      "encoding": {
        "x": {"field":"p","type":"quantitative","title":null,
          "axis": {
            "values":[155,154,153,152,151,150,149,148,147,146,145,144,143,142,141,140,139,138,137,136,135,134],
            "labelExpr":"(datum.value % 2 == 0 && datum.value > 134) ? datum.label : ''",
            "grid":false,"title":null,
            "domainColor":"#ff4a4a","domainWidth":1.5,
            "tickColor":"#ff4a4a","tickWidth":1.2,
            "tickSize":{"condition":{"test":"datum.value % 2 == 0","value":8},"value":4},
            "labelColor":"#ff4a4a","labelFont":"DejaVu Sans Mono","labelFontSize":15.5,
            "labelPadding":5,"labelOverlap":false,"labelBound":false,"labelFlush":false
          }},
        "color": {"field":"s","type":"nominal","legend":null,
          "scale":{"domain":["ASKL","Control reaction","1 equ DMC","3 equ DMC","4 equ DMC","6 equ DMC","8 equ DMC"],
                   "range":["#ff1a1a","#30f0f0","#222222","#ee80ee","#3a8a5a","#b03c3c","#2020ff"]}}
      }
    },
    {
      "data": {"name":"boxes"},
      "mark": {"type":"rect","fillOpacity":0,"stroke":"black","strokeWidth":2.5},
      "encoding": {"x2":{"field":"p2"},"y2":{"field":"v2"}}
    },
    {
      "data": {"name":"shafts"},
      "mark": {"type":"rule","color":"black","strokeWidth":5,"strokeCap":"butt"},
      "encoding": {"x2":{"field":"p2"},"y2":{"field":"v2"}}
    },
    {
      "data": {"name":"heads"},
      "mark": {"type":"line","color":"black","strokeWidth":5,"strokeJoin":"miter","strokeCap":"butt","clip":false},
      "encoding": {"detail":{"field":"a","type":"nominal"},"order":{"field":"k","type":"quantitative"}}
    },
    {
      "data": {"name":"samples"},
      "mark": {"type":"text","align":"left","baseline":"alphabetic","fontSize":26,"font":"Liberation Sans","color":"black"},
      "encoding": {"text":{"field":"t"}}
    },
    {
      "data": {"name":"notes"},
      "mark": {"type":"text","align":"center","baseline":"alphabetic","fontSize":26,"font":"Liberation Sans","color":"black"},
      "encoding": {"text":{"field":"t"}}
    },
    {
      "data": {"name":"unit"},
      "mark": {"type":"text","align":"right","baseline":"alphabetic","fontSize":15.5,"font":"DejaVu Sans Mono","color":"#ff4a4a"},
      "encoding": {"text":{"field":"t"}}
    }
  ]
}
